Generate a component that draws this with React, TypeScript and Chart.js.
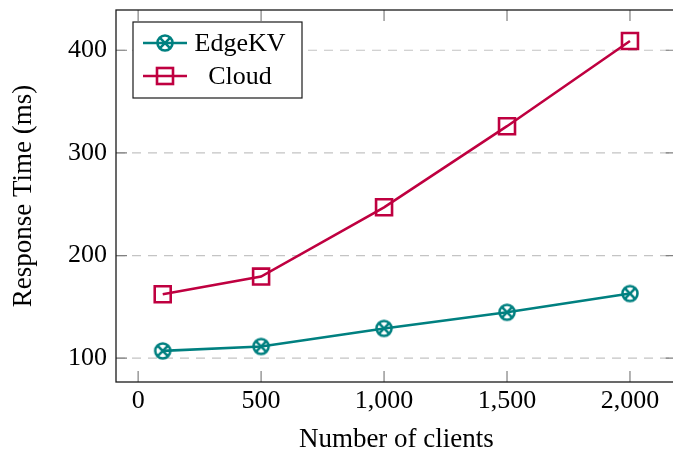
import React, { useEffect, useRef } from 'react';
import { Chart, registerables } from 'chart.js';

Chart.register(...registerables);

const clients = [100, 500, 1000, 1500, 2000];
const edgeKV = [107.1, 111.4, 129, 144.7, 163];
const cloud = [162.3, 179.5, 247, 326, 409];
const xTicks = [0, 500, 1000, 1500, 2000];
const yTicks = [100, 200, 300, 400];
const seriesNames = ['EdgeKV', 'Cloud'];

const TEAL = '#008080';
const PURPLE = '#BF0040';
const FONT = '"Liberation Serif", "Times New Roman", serif';

function fmt(v: number): string {
  return String(v).replace(/\B(?=(\d{3})+(?!\d))/g, ',');
}

function makeOtimes(color: string): HTMLCanvasElement {
  const c = document.createElement('canvas');
  c.width = 24;
  c.height = 24;
  const g = c.getContext('2d')!;
  g.strokeStyle = color;
  g.lineWidth = 2.6;
  g.beginPath();
  g.arc(12, 12, 7.5, 0, Math.PI * 2);
  g.stroke();
  const d = 7.5 * Math.SQRT1_2;
  g.beginPath();
  g.moveTo(12 - d, 12 - d);
  g.lineTo(12 + d, 12 + d);
  g.moveTo(12 + d, 12 - d);
  g.lineTo(12 - d, 12 + d);
  g.stroke();
  return c;
}

function zeroPad(s: any) {
  s.paddingTop = 0;
  s.paddingBottom = 0;
  s.paddingLeft = 0;
  s.paddingRight = 0;
}

export default function App() {
  const ref = useRef<HTMLCanvasElement | null>(null);

  useEffect(() => {
    if (!ref.current) return;
    const otimes = makeOtimes(TEAL);

    const framePlugin = {
      id: 'frame',
      beforeDatasetsDraw(chart: any) {
        const { ctx, chartArea: a, scales } = chart;
        const x = scales.x;
        const y = scales.y;
        ctx.save();
        ctx.strokeStyle = '#c4c4c4';
        ctx.lineWidth = 1.2;
        ctx.setLineDash([9, 7]);
        yTicks.forEach((v) => {
          const py = y.getPixelForValue(v);
          ctx.beginPath();
          ctx.moveTo(a.left, py);
          ctx.lineTo(a.right, py);
          ctx.stroke();
        });
        ctx.setLineDash([]);
        ctx.strokeStyle = '#808080';
        ctx.lineWidth = 1.2;
        const tl = 11;
        xTicks.forEach((v) => {
          const px = x.getPixelForValue(v);
          ctx.beginPath();
          ctx.moveTo(px, a.bottom);
          ctx.lineTo(px, a.bottom - tl);
          ctx.moveTo(px, a.top);
          ctx.lineTo(px, a.top + tl);
          ctx.stroke();
        });
        yTicks.forEach((v) => {
          const py = y.getPixelForValue(v);
          ctx.beginPath();
          ctx.moveTo(a.left, py);
          ctx.lineTo(a.left + tl, py);
          ctx.moveTo(a.right, py);
          ctx.lineTo(a.right - tl, py);
          ctx.stroke();
        });
        ctx.strokeStyle = '#1a1a1a';
        ctx.lineWidth = 1.3;
        ctx.strokeRect(a.left, a.top, a.right - a.left, a.bottom - a.top);
        ctx.restore();
      },
      afterDraw(chart: any) {
        const { ctx } = chart;
        ctx.save();
        const bx = 133, by = 22, bw = 169, bh = 76;
        ctx.fillStyle = '#ffffff';
        ctx.fillRect(bx, by, bw, bh);
        ctx.strokeStyle = '#1a1a1a';
        ctx.lineWidth = 1.2;
        ctx.strokeRect(bx, by, bw, bh);
        const rows = [43, 76];
        chart.data.datasets.forEach((ds: any, i: number) => {
          const yy = rows[i];
          ctx.strokeStyle = ds.borderColor;
          ctx.lineWidth = 2.6;
          ctx.beginPath();
          ctx.moveTo(143, yy);
          ctx.lineTo(187, yy);
          ctx.stroke();
          if (i === 0) {
            ctx.drawImage(otimes, 165 - 12, yy - 12);
          } else {
            ctx.strokeRect(165 - 8, yy - 8, 16, 16);
          }
          ctx.fillStyle = '#000';
          ctx.font = `26px ${FONT}`;
          ctx.textAlign = 'center';
          ctx.textBaseline = 'middle';
          ctx.fillText(ds.label, 240, yy + 1);
        });
        ctx.restore();
      },
    };

    const chart = new Chart(ref.current, {
      type: 'line',
      data: {
        datasets: [
          {
            label: seriesNames[0],
            data: clients.map((c, i) => ({ x: c, y: edgeKV[i] })),
            borderColor: TEAL,
            backgroundColor: TEAL,
            borderWidth: 2.6,
            pointStyle: otimes as any,
            pointRadius: 8,
            pointBackgroundColor: 'rgba(0,0,0,0)',
            pointBorderColor: TEAL,
            tension: 0,
            clip: 20,
          },
          {
            label: seriesNames[1],
            data: clients.map((c, i) => ({ x: c, y: cloud[i] })),
            borderColor: PURPLE,
            backgroundColor: PURPLE,
            borderWidth: 2.6,
            pointStyle: 'rect',
            pointRadius: 11.3,
            pointBorderWidth: 2.6,
            pointBackgroundColor: 'rgba(0,0,0,0)',
            pointBorderColor: PURPLE,
            tension: 0,
            clip: 20,
          },
        ],
      },
      options: {
        animation: false,
        responsive: false,
        devicePixelRatio: 1,
        layout: { autoPadding: false, padding: { left: 0, top: 10, right: 23.3, bottom: 0 } },
        plugins: { legend: { display: false }, tooltip: { enabled: false } },
        scales: {
          x: {
            type: 'linear',
            min: -90,
            max: 2190,
            afterBuildTicks: (s: any) => {
              s.ticks = xTicks.map((v) => ({ value: v }));
            },
            afterFit: (s: any) => {
              s.height = 74;
              zeroPad(s);
            },
            grid: { display: false, drawTicks: false },
            border: { display: false },
            ticks: {
              font: { family: FONT, size: 26 },
              color: '#000',
              padding: 4,
              maxRotation: 0,
              autoSkip: false,
              callback: (v: any) => fmt(Number(v)),
            },
            title: {
              display: true,
              text: 'Number of clients',
              font: { family: FONT, size: 27 },
              color: '#000',
              padding: { top: 0, bottom: 0 },
            },
          },
          y: {
            type: 'linear',
            min: 76.8,
            max: 439.2,
            afterBuildTicks: (s: any) => {
              s.ticks = yTicks.map((v) => ({ value: v }));
            },
            afterFit: (s: any) => {
              s.width = 116;
              zeroPad(s);
            },
            grid: { display: false, drawTicks: false },
            border: { display: false },
            ticks: {
              font: { family: FONT, size: 26 },
              color: '#000',
              padding: 9,
              autoSkip: false,
              callback: (v: any) => fmt(Number(v)),
            },
            title: {
              display: true,
              text: 'Response Time (ms)',
              font: { family: FONT, size: 27 },
              color: '#000',
              padding: { top: 8, bottom: 0 },
            },
          },
        },
      },
      plugins: [framePlugin],
    });

    return () => chart.destroy();
  }, []);

  return (
    <div
      style={{
        position: 'absolute',
        left: 0,
        top: 0,
        width: 673,
        height: 452,
        overflow: 'hidden',
        background: '#fff',
      }}
    >
      <canvas ref={ref} width={700} height={456} style={{ display: 'block' }} />
    </div>
  );
}
